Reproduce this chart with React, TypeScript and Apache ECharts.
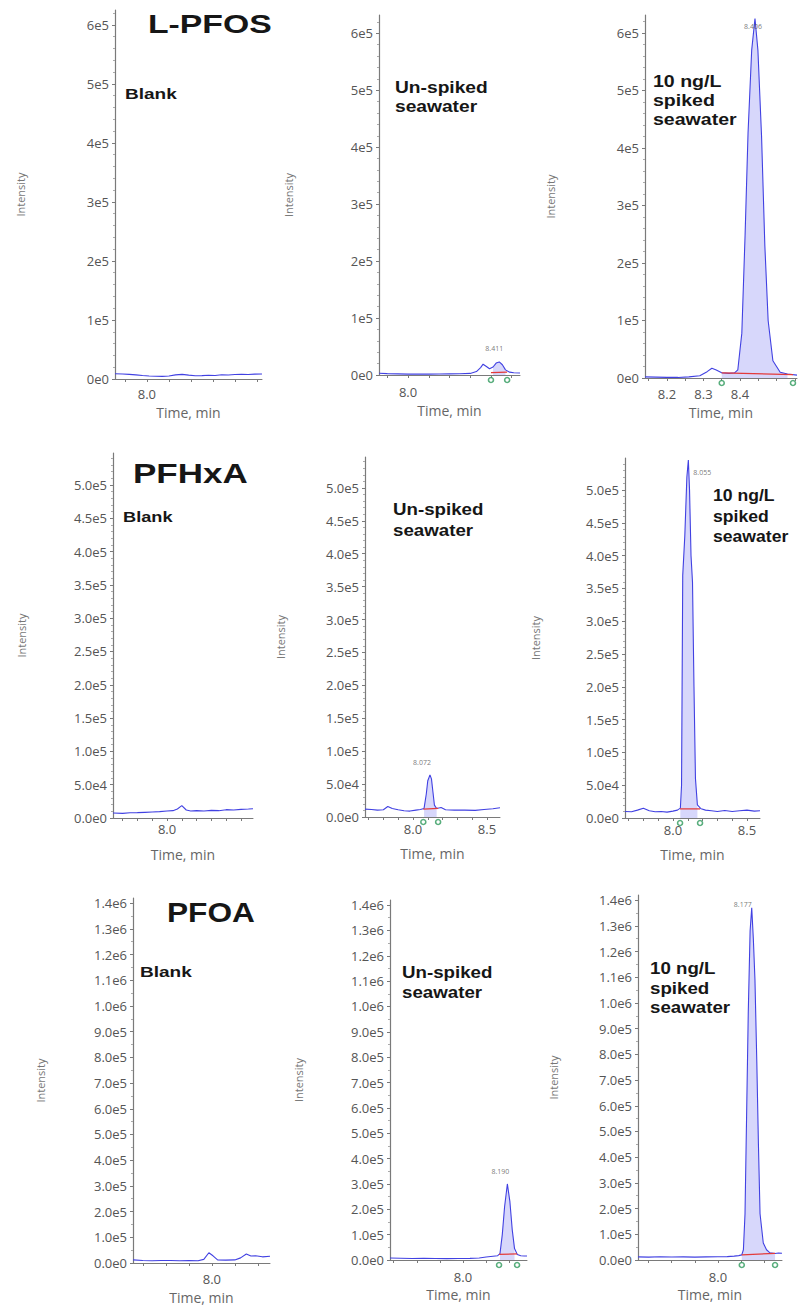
import React, { useEffect, useRef } from "react";
import * as echarts from "echarts";

type Pt = [number, number];

// ---------------- Data (time in min, intensity in cps) ----------------
// L-PFOS
const pfosBlank: Pt[] = [
  [7.855, 9000], [7.89, 8500], [7.92, 7800], [7.95, 7000], [7.98, 6000], [8.01, 5200], [8.04, 4600],
  [8.07, 4400], [8.1, 5000], [8.13, 7000], [8.16, 7800], [8.19, 6500], [8.22, 5500], [8.25, 5800],
  [8.28, 6300], [8.31, 6000], [8.34, 7200], [8.37, 6800], [8.4, 7500], [8.43, 8000], [8.46, 7600],
  [8.49, 8200], [8.523, 8400],
];
const pfosUnspiked: Pt[] = [
  [7.86, 3000], [7.9, 2500], [7.95, 2000], [8.0, 1500], [8.05, 1800], [8.1, 1500], [8.15, 1800],
  [8.2, 2000], [8.25, 2200], [8.3, 2800], [8.33, 6000], [8.35, 13000], [8.362, 19000], [8.378, 15000],
  [8.393, 11000], [8.41, 14000], [8.425, 21000], [8.44, 23000], [8.455, 18000], [8.47, 9000],
  [8.49, 5000], [8.51, 4000], [8.54, 3500],
];
const pfosSpiked: Pt[] = [
  [8.14, 2000], [8.17, 1500], [8.2, 1000], [8.23, 1000], [8.26, 2000], [8.29, 4000], [8.31, 11000],
  [8.323, 17000], [8.335, 14000], [8.35, 9000], [8.37, 8000], [8.385, 9000], [8.394, 14000],
  [8.405, 78000], [8.414, 250000], [8.422, 426000], [8.432, 570000], [8.441, 625000], [8.449, 570000],
  [8.459, 420000], [8.468, 230000], [8.477, 100000], [8.49, 30000], [8.51, 10000], [8.53, 7000],
  [8.556, 5000],
];
// PFHxA
const pfhxaBlank: Pt[] = [
  [7.635, 7500], [7.7, 7000], [7.75, 7800], [7.8, 8000], [7.85, 8500], [7.9, 9000], [7.95, 9500],
  [8.0, 10500], [8.04, 11000], [8.07, 13500], [8.1, 18500], [8.13, 12000], [8.16, 10500], [8.2, 11000],
  [8.25, 10500], [8.3, 11500], [8.35, 11000], [8.4, 12500], [8.45, 12000], [8.5, 13000], [8.55, 13500],
  [8.581, 14000],
];
const pfhxaUnspiked: Pt[] = [
  [7.676, 12000], [7.72, 11500], [7.76, 10500], [7.8, 11000], [7.83, 16000], [7.86, 13000],
  [7.9, 11000], [7.94, 9500], [7.98, 9000], [8.02, 10500], [8.05, 11500], [8.075, 13000], [8.09, 35000],
  [8.1, 55000], [8.115, 64000], [8.125, 58000], [8.135, 38000], [8.145, 18000], [8.16, 13000],
  [8.19, 14500], [8.22, 11000], [8.28, 10500], [8.35, 10500], [8.42, 10000], [8.48, 11500],
  [8.54, 12500], [8.588, 14000],
];
const pfhxaSpiked: Pt[] = [
  [7.676, 10000], [7.72, 9500], [7.76, 12000], [7.8, 15000], [7.84, 11000], [7.88, 9500], [7.92, 10000],
  [7.96, 9000], [8.0, 10500], [8.03, 12000], [8.05, 15000], [8.058, 50000], [8.066, 370000],
  [8.08, 430000], [8.094, 520000], [8.104, 546000], [8.112, 500000], [8.122, 400000], [8.132, 360000],
  [8.142, 200000], [8.152, 60000], [8.165, 20000], [8.19, 14000], [8.22, 12000], [8.26, 11000],
  [8.3, 10000], [8.35, 11500], [8.4, 10000], [8.45, 11000], [8.5, 12000], [8.55, 10500], [8.588, 11000],
];
// PFOA
const pfoaBlank: Pt[] = [
  [7.657, 12000], [7.7, 10000], [7.74, 9000], [7.78, 10000], [7.82, 9500], [7.86, 9000], [7.9, 10000],
  [7.94, 9000], [7.965, 14000], [7.987, 40000], [8.005, 28000], [8.025, 12000], [8.06, 11000],
  [8.1, 12000], [8.125, 20000], [8.15, 35000], [8.17, 27000], [8.19, 28000], [8.22, 24000],
  [8.253, 26000],
];
const pfoaUnspiked: Pt[] = [
  [7.684, 8000], [7.73, 7000], [7.78, 6000], [7.83, 6500], [7.88, 6000], [7.93, 5500], [7.98, 6000],
  [8.03, 6500], [8.07, 8000], [8.1, 12000], [8.13, 15000], [8.15, 17000], [8.16, 25000], [8.17, 100000],
  [8.18, 210000], [8.192, 300000], [8.203, 230000], [8.213, 120000], [8.223, 45000], [8.235, 22000],
  [8.25, 17000], [8.265, 16000], [8.277, 16000],
];
const pfoaSpiked: Pt[] = [
  [7.654, 12000], [7.7, 11000], [7.75, 12500], [7.8, 11500], [7.85, 12000], [7.9, 11000], [7.95, 12000],
  [8.0, 12500], [8.04, 13000], [8.07, 15000], [8.09, 17000], [8.103, 20000], [8.11, 40000],
  [8.117, 180000], [8.124, 570000], [8.131, 960000], [8.139, 1280000], [8.146, 1370000],
  [8.153, 1250000], [8.16, 1090000], [8.168, 770000], [8.175, 450000], [8.182, 180000], [8.196, 66000],
  [8.21, 40000], [8.225, 28000], [8.247, 25000], [8.262, 27000], [8.277, 26000],
];

// integration windows (start, end) and their baselines
const pfosUnspikedWindow: Pt = [8.4, 8.478];
const pfosUnspikedBase: Pt[] = [[8.4, 4000], [8.478, 5000]];
const pfosSpikedWindow: Pt = [8.35, 8.545];
const pfosSpikedBase: Pt[] = [[8.35, 9000], [8.545, 6000]];
const pfhxaUnspikedWindow: Pt = [8.07, 8.17];
const pfhxaUnspikedBase: Pt[] = [[8.07, 12000], [8.17, 13000]];
const pfhxaSpikedWindow: Pt = [8.048, 8.183];
const pfhxaSpikedBase: Pt[] = [[8.048, 14000], [8.183, 14000]];
const pfoaUnspikedWindow: Pt = [8.156, 8.234];
const pfoaUnspikedBase: Pt[] = [[8.156, 22000], [8.234, 24000]];
const pfoaSpikedWindow: Pt = [8.103, 8.247];
const pfoaSpikedBase: Pt[] = [[8.103, 20000], [8.247, 26000]];

// retention time labels
const pfosUnspikedRT = "8.411";
const pfosSpikedRT = "8.406";
const pfhxaUnspikedRT = "8.072";
const pfhxaSpikedRT = "8.055";
const pfoaUnspikedRT = "8.190";
const pfoaSpikedRT = "8.177";

// tick values
const pfosYTicks = [0, 1e5, 2e5, 3e5, 4e5, 5e5, 6e5];
const pfhxaYTicks = [0, 5e4, 1e5, 1.5e5, 2e5, 2.5e5, 3e5, 3.5e5, 4e5, 4.5e5, 5e5];
const pfoaYTicks = [0, 1e5, 2e5, 3e5, 4e5, 5e5, 6e5, 7e5, 8e5, 9e5, 1e6, 1.1e6, 1.2e6, 1.3e6, 1.4e6];
const pfosXTicks = [7.9, 8.0, 8.1, 8.2, 8.3, 8.4, 8.5];
const pfosSpikedXTicks = [8.15, 8.2, 8.25, 8.3, 8.35, 8.4, 8.45, 8.5, 8.55];
const pfhxaXTicks = [7.7, 7.8, 7.9, 8.0, 8.1, 8.2, 8.3, 8.4, 8.5];
const pfoaXTicks = [7.7, 7.8, 7.9, 8.0, 8.1, 8.2];
const pfosXLabels = [8.0];
const pfosSpikedXLabels = [8.2, 8.3, 8.4];
const pfhxaBlankXLabels = [8.0];
const pfhxaXLabels = [8.0, 8.5];
const pfoaXLabels = [8.0];

const compounds = ["L-PFOS", "PFHxA", "PFOA"];
const sampleBlank = "Blank";
const sampleUnspiked = "Un-spiked\nseawater";
const sampleSpiked = "10 ng/L\nspiked\nseawater";

// ---------------- Layout / style ----------------
const FONT = "'Open Sans', 'DejaVu Sans', sans-serif";
const BOLD = "'Liberation Sans', Arial, sans-serif";
const TRACE = "#4141e2";
const FILL = "rgba(120,120,240,0.42)";
const RED = "#e33b3b";
const GREEN = "#2f9a5c";
const AXIS = "#7a7a7a";

type Panel = {
  trace: Pt[];
  win?: Pt;
  base?: Pt[];
  rt?: string;
  yTicks: number[];
  yFmt: (v: number) => string;
  yInterval: number;
  minorSplit: number;
  xTicks: number[];
  xLabels: number[];
  g: { left: number; top: number; width: number; height: number };
  xMin: number; xMax: number; yMax: number;
  yNameGap: number; xNameGap: number; xLabelMargin: number;
  rtPos?: string; rtOffset?: number[];
};

const fmt0 = (v: number) => v.toExponential(0).replace("+", "");
const fmt1 = (v: number) => v.toExponential(1).replace("+", "");

const panels: Panel[] = [
  { trace: pfosBlank, yTicks: pfosYTicks, yFmt: fmt0, yInterval: 1e5, minorSplit: 5, xTicks: pfosXTicks, xLabels: pfosXLabels,
    g: { left: 115, top: 10, width: 147, height: 369 }, xMin: 7.855, xMax: 8.523, yMax: 6.25e5, yNameGap: 89, xNameGap: 26, xLabelMargin: 8 },
  { trace: pfosUnspiked, win: pfosUnspikedWindow, base: pfosUnspikedBase, rt: pfosUnspikedRT, yTicks: pfosYTicks, yFmt: fmt0, yInterval: 1e5, minorSplit: 5,
    xTicks: pfosXTicks, xLabels: pfosXLabels, g: { left: 379, top: 15, width: 141, height: 360 }, xMin: 7.86, xMax: 8.54, yMax: 6.32e5,
    yNameGap: 85, xNameGap: 28, xLabelMargin: 10, rtPos: "top", rtOffset: [-5, -5] },
  { trace: pfosSpiked, win: pfosSpikedWindow, base: pfosSpikedBase, rt: pfosSpikedRT, yTicks: pfosYTicks, yFmt: fmt0, yInterval: 1e5, minorSplit: 5,
    xTicks: pfosSpikedXTicks, xLabels: pfosSpikedXLabels, g: { left: 645, top: 15, width: 152, height: 363 }, xMin: 8.14, xMax: 8.556, yMax: 6.31e5,
    yNameGap: 89, xNameGap: 27, xLabelMargin: 9, rtPos: "bottom", rtOffset: [-2, 0] },
  { trace: pfhxaBlank, yTicks: pfhxaYTicks, yFmt: fmt1, yInterval: 5e4, minorSplit: 5, xTicks: pfhxaXTicks, xLabels: pfhxaBlankXLabels,
    g: { left: 113, top: 453, width: 140, height: 365 }, xMin: 7.635, xMax: 8.581, yMax: 5.48e5, yNameGap: 86, xNameGap: 29, xLabelMargin: 4 },
  { trace: pfhxaUnspiked, win: pfhxaUnspikedWindow, base: pfhxaUnspikedBase, rt: pfhxaUnspikedRT, yTicks: pfhxaYTicks, yFmt: fmt1, yInterval: 5e4, minorSplit: 5,
    xTicks: pfhxaXTicks, xLabels: pfhxaXLabels, g: { left: 365, top: 457, width: 135, height: 360 }, xMin: 7.676, xMax: 8.588, yMax: 5.47e5,
    yNameGap: 79, xNameGap: 29, xLabelMargin: 5, rtPos: "top", rtOffset: [-8, -4] },
  { trace: pfhxaSpiked, win: pfhxaSpikedWindow, base: pfhxaSpikedBase, rt: pfhxaSpikedRT, yTicks: pfhxaYTicks, yFmt: fmt1, yInterval: 5e4, minorSplit: 5,
    xTicks: pfhxaXTicks, xLabels: pfhxaXLabels, g: { left: 625, top: 458, width: 135, height: 360 }, xMin: 7.676, xMax: 8.588, yMax: 5.49e5,
    yNameGap: 84, xNameGap: 29, xLabelMargin: 5, rtPos: "right", rtOffset: [0, 13] },
  { trace: pfoaBlank, yTicks: pfoaYTicks, yFmt: fmt1, yInterval: 1e5, minorSplit: 2, xTicks: pfoaXTicks, xLabels: pfoaXLabels,
    g: { left: 133, top: 898, width: 137, height: 365 }, xMin: 7.657, xMax: 8.253, yMax: 1.42e6, yNameGap: 87, xNameGap: 27, xLabelMargin: 9 },
  { trace: pfoaUnspiked, win: pfoaUnspikedWindow, base: pfoaUnspikedBase, rt: pfoaUnspikedRT, yTicks: pfoaYTicks, yFmt: fmt1, yInterval: 1e5, minorSplit: 2,
    xTicks: pfoaXTicks, xLabels: pfoaXLabels, g: { left: 390, top: 900, width: 137, height: 360 }, xMin: 7.684, xMax: 8.277, yMax: 1.42e6,
    yNameGap: 86, xNameGap: 27, xLabelMargin: 10, rtPos: "top", rtOffset: [-7, -4] },
  { trace: pfoaSpiked, win: pfoaSpikedWindow, base: pfoaSpikedBase, rt: pfoaSpikedRT, yTicks: pfoaYTicks, yFmt: fmt1, yInterval: 1e5, minorSplit: 2,
    xTicks: pfoaXTicks, xLabels: pfoaXLabels, g: { left: 638, top: 895, width: 144, height: 365 }, xMin: 7.654, xMax: 8.277, yMax: 1.42e6,
    yNameGap: 79, xNameGap: 27, xLabelMargin: 10, rtPos: "left", rtOffset: [5, -3] },
];

// annotation text positions
const annotations = [
  { text: compounds[0], x: 148, y: 24, size: 25, sx: 1.35, lh: 0 },
  { text: compounds[1], x: 133, y: 473, size: 28, sx: 1.25, lh: 0 },
  { text: compounds[2], x: 167, y: 912, size: 28, sx: 1.13, lh: 0 },
  { text: sampleBlank, x: 125, y: 94, size: 15, sx: 1.27, lh: 0 },
  { text: sampleUnspiked, x: 395, y: 78, size: 16, sx: 1.2, lh: 19 },
  { text: sampleSpiked, x: 653, y: 71.5, size: 17, sx: 1.15, lh: 19 },
  { text: sampleBlank, x: 123, y: 517, size: 14, sx: 1.3, lh: 0 },
  { text: sampleUnspiked, x: 393, y: 498.5, size: 16, sx: 1.17, lh: 21 },
  { text: sampleSpiked, x: 713, y: 486, size: 16, sx: 1.1, lh: 20.5 },
  { text: sampleBlank, x: 140, y: 972, size: 15, sx: 1.27, lh: 0 },
  { text: sampleUnspiked, x: 402, y: 962, size: 16, sx: 1.17, lh: 20 },
  { text: sampleSpiked, x: 650, y: 959, size: 16, sx: 1.17, lh: 19.5 },
];

function buildOption(): any {
  const grid = panels.map((p) => ({ ...p.g, containLabel: false }));
  const xAxis = panels.map((p, i) => ({
    type: "value", gridIndex: i, min: p.xMin, max: p.xMax,
    name: "Time, min", nameLocation: "middle", nameGap: p.xNameGap,
    nameTextStyle: { fontSize: 14, color: "#666", fontFamily: FONT },
    axisLine: { show: true, onZero: false, lineStyle: { color: AXIS, width: 1 } },
    axisTick: { show: true, length: 3, customValues: p.xTicks, lineStyle: { color: AXIS } },
    axisLabel: { customValues: p.xLabels, formatter: (v: number) => v.toFixed(1), fontSize: 13, color: "#555", margin: p.xLabelMargin, fontFamily: FONT },
    splitLine: { show: false },
  }));
  const yAxis = panels.map((p, i) => ({
    type: "value", gridIndex: i, min: 0, max: p.yMax, interval: p.yInterval,
    name: "Intensity", nameLocation: "middle", nameGap: p.yNameGap,
    nameTextStyle: { fontSize: 11, color: "#777", fontFamily: FONT },
    axisLine: { show: true, onZero: false, lineStyle: { color: AXIS, width: 1.2 } },
    axisTick: { show: true, length: 3, customValues: p.yTicks, lineStyle: { color: AXIS } },
    minorTick: { show: true, splitNumber: p.minorSplit, length: 2, lineStyle: { color: "#aaa" } },
    axisLabel: { customValues: p.yTicks, formatter: p.yFmt, fontSize: 13, color: "#555", margin: 6, fontFamily: FONT },
    splitLine: { show: false },
  }));
  const series: any[] = [];
  panels.forEach((p, i) => {
    series.push({
      type: "line", xAxisIndex: i, yAxisIndex: i, data: p.trace, showSymbol: false, z: 3,
      lineStyle: { color: TRACE, width: 1.1 }, itemStyle: { color: TRACE },
    });
    if (p.win && p.base) {
      const w = p.win;
      series.push({
        type: "line", xAxisIndex: i, yAxisIndex: i, showSymbol: false, z: 2,
        data: p.trace.filter((d) => d[0] >= w[0] && d[0] <= w[1]),
        lineStyle: { width: 0 }, areaStyle: { color: FILL },
      });
      series.push({
        type: "line", xAxisIndex: i, yAxisIndex: i, showSymbol: false, z: 4, data: p.base,
        lineStyle: { color: RED, width: 1.2 }, itemStyle: { color: RED },
      });
      series.push({
        type: "scatter", xAxisIndex: i, yAxisIndex: i, clip: false, z: 5,
        data: [[w[0], 0], [w[1], 0]], symbol: "circle", symbolSize: 5, symbolOffset: [0, 5],
        itemStyle: { color: "#ffffff", borderColor: GREEN, borderWidth: 1.6 },
      });
      const apex = p.trace.filter((d) => d[0] >= w[0] && d[0] <= w[1]).reduce((a, b) => (b[1] > a[1] ? b : a));
      series.push({
        type: "scatter", xAxisIndex: i, yAxisIndex: i, clip: false, z: 6,
        data: [apex], symbolSize: 0, itemStyle: { color: "transparent" },
        label: { show: true, formatter: p.rt, position: p.rtPos, offset: p.rtOffset, fontSize: 7, color: "#555", fontFamily: FONT },
      });
    }
  });
  const graphic = annotations.map((a) => ({
    type: "text", x: a.x, y: a.lh ? a.y : a.y, scaleX: a.sx, scaleY: 1, z: 100,
    style: {
      text: a.text, fill: "#161616", fontSize: a.size, fontWeight: "bold", fontFamily: BOLD,
      lineHeight: a.lh || undefined,
      textAlign: "left", align: "left",
      textVerticalAlign: a.lh ? "top" : "middle", verticalAlign: a.lh ? "top" : "middle",
    },
  }));
  return {
    animation: false,
    backgroundColor: "#ffffff",
    textStyle: { fontFamily: FONT },
    grid, xAxis, yAxis, series, graphic,
  };
}

export default function App() {
  const ref = useRef<HTMLDivElement>(null);
  useEffect(() => {
    if (!ref.current) return;
    const chart = echarts.init(ref.current, null, { renderer: "svg" });
    chart.setOption(buildOption());
    return () => chart.dispose();
  }, []);
  return (
    <div
      ref={ref}
      style={{ position: "absolute", left: 0, top: 0, width: 799, height: 1308, background: "#fff" }}
    />
  );
}
